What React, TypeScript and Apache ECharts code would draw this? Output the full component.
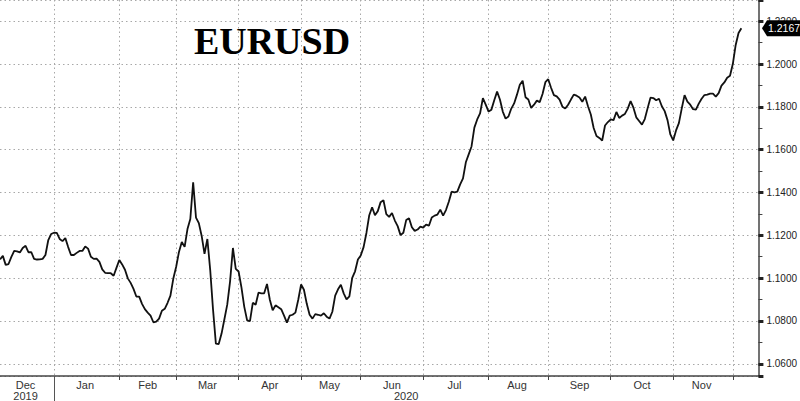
import React, { useEffect, useRef } from "react";
import * as echarts from "echarts";

// ---- data ----
const firstDate = "2019-12-05";
const lastAxisDate = "2020-12-14";
const monthNames = ["Jan", "Feb", "Mar", "Apr", "May", "Jun", "Jul", "Aug", "Sep", "Oct", "Nov", "Dec"];
const yMin = 1.0543;
const yMax = 1.2299;
const lastPriceLabel = "1.2167";
const titleText = "EURUSD";

// daily EURUSD closes (one per weekday from 2019-12-05)
const closes = [
  1.1088, 1.1104, 1.1062, 1.1066, 1.1099, 1.1127, 1.1125, 1.112, 1.1141, 1.1151,
  1.1121, 1.1122, 1.109, 1.1087, 1.1088, 1.109, 1.1108, 1.1178, 1.1206, 1.1212,
  1.1211, 1.1183, 1.1173, 1.1187, 1.1145, 1.1108, 1.1108, 1.1118, 1.1127, 1.1127,
  1.1148, 1.1138, 1.11, 1.109, 1.1091, 1.1076, 1.1041, 1.1025, 1.1023, 1.1023,
  1.1011, 1.1048, 1.1085, 1.1064, 1.1039, 1.0999, 1.0978, 1.095, 1.0914, 1.0914,
  1.088, 1.0855, 1.0839, 1.0825, 1.0794, 1.0797, 1.0811, 1.0848, 1.0857, 1.0885,
  1.0918, 1.0997, 1.1052, 1.1122, 1.1169, 1.1146, 1.1229, 1.1276, 1.1448, 1.1283,
  1.1257, 1.1197, 1.1113, 1.1183, 1.1039, 1.0853, 1.0694, 1.0692, 1.0741, 1.0808,
  1.0876, 1.0985, 1.1141, 1.1043, 1.1031, 1.0957, 1.0866, 1.0803, 1.0799, 1.0885,
  1.0876, 1.0932, 1.0929, 1.0929, 1.0973, 1.0899, 1.085, 1.0873, 1.0864, 1.0855,
  1.0825, 1.0792, 1.0825, 1.0829, 1.0839, 1.0899, 1.0971, 1.0946, 1.088, 1.0829,
  1.0811, 1.0832, 1.0829, 1.0825, 1.0836, 1.082, 1.0811, 1.0843, 1.0918, 1.0948,
  1.0969, 1.0929, 1.0901, 1.0915, 1.1001, 1.1032, 1.1087, 1.1106, 1.1145, 1.1211,
  1.1294, 1.1331, 1.1294, 1.1313, 1.1355, 1.1364, 1.1299, 1.1286, 1.1304, 1.1269,
  1.1243, 1.1201, 1.1212, 1.1271, 1.128, 1.1238, 1.1221, 1.1227, 1.1241, 1.1236,
  1.125, 1.1245, 1.1283, 1.1292, 1.1297, 1.132, 1.1292, 1.1318, 1.1357, 1.1404,
  1.1401, 1.1404, 1.1438, 1.1466, 1.1541, 1.1578, 1.1615, 1.1703, 1.1741, 1.1769,
  1.1841, 1.181, 1.1778, 1.1787, 1.1831, 1.1871, 1.1834, 1.1778, 1.1745, 1.1755,
  1.1792, 1.1816, 1.1857, 1.1903, 1.1922, 1.1845, 1.1834, 1.1795, 1.181, 1.1829,
  1.1822, 1.186, 1.1915, 1.1929, 1.1889, 1.1855, 1.1849, 1.1834, 1.1801, 1.1792,
  1.181, 1.1834, 1.1857, 1.1852, 1.1844, 1.1824, 1.1848, 1.1803, 1.1764, 1.1701,
  1.1664, 1.1655, 1.1643, 1.1713, 1.1729, 1.1741, 1.1738, 1.1776, 1.1748, 1.1759,
  1.1767, 1.1792, 1.1827, 1.1796, 1.1751, 1.1734, 1.1717, 1.1743, 1.1794, 1.1843,
  1.1841, 1.1831, 1.1838, 1.1803, 1.178, 1.1738, 1.1671, 1.1643, 1.169, 1.1724,
  1.1792, 1.1855, 1.1824, 1.181, 1.1789, 1.1787, 1.1815, 1.1838, 1.1855, 1.1857,
  1.1862, 1.1862, 1.1848, 1.1864, 1.1899, 1.1914, 1.1936, 1.1945, 1.2001, 1.2089,
  1.2145, 1.2167,
];

// ---- category axis (weekdays) ----
function weekdays(start: string, end: string): string[] {
  const out: string[] = [];
  const d = new Date(start + "T00:00:00Z");
  const e = new Date(end + "T00:00:00Z");
  while (d.getTime() <= e.getTime()) {
    const wd = d.getUTCDay();
    if (wd !== 0 && wd !== 6) out.push(d.toISOString().slice(0, 10));
    d.setUTCDate(d.getUTCDate() + 1);
  }
  return out;
}
const categories = weekdays(firstDate, lastAxisDate);

const monthStarts: number[] = [];
const yearStarts: number[] = [];
categories.forEach((c, i) => {
  if (i === 0) return;
  const prev = categories[i - 1];
  if (prev.slice(0, 7) !== c.slice(0, 7)) monthStarts.push(i);
  if (prev.slice(0, 4) !== c.slice(0, 4)) yearStarts.push(i);
});
const monthStartSet = new Set(monthStarts);
const yearStartSet = new Set(yearStarts);

const monthLabelMap = new Map<number, string>();
{
  const bounds = [0, ...monthStarts];
  for (let k = 0; k < bounds.length - 1; k++) {
    const mid = Math.floor((bounds[k] + bounds[k + 1]) / 2);
    const m = parseInt(categories[bounds[k]].slice(5, 7), 10) - 1;
    monthLabelMap.set(mid, monthNames[m]);
  }
}
const yearLabelMap = new Map<number, string>();
{
  const bounds = [0, ...yearStarts, categories.length];
  for (let k = 0; k < bounds.length - 1; k++) {
    const mid = Math.floor((bounds[k] + bounds[k + 1]) / 2);
    yearLabelMap.set(mid, categories[bounds[k]].slice(0, 4));
  }
}

const isMajor = (v: number) => Math.abs(v * 50 - Math.round(v * 50)) < 1e-6;

const gridLine = { color: "#a8a8a8", width: 1, type: [1.5, 3] as any };
const sans = "Liberation Sans";
const GRID_RIGHT = 39;

export default function App() {
  const ref = useRef<HTMLDivElement>(null);
  useEffect(() => {
    document.body.style.margin = "0";
    const chart = echarts.init(ref.current!, undefined, { renderer: "svg" });
    chart.setOption({
      animation: false,
      backgroundColor: "#ffffff",
      grid: { left: 0, right: GRID_RIGHT, top: -1, bottom: 24.5, containLabel: false },
      xAxis: [
        {
          type: "category",
          data: categories,
          boundaryGap: false,
          axisLine: { show: true, lineStyle: { color: "#444", width: 1.5 } },
          axisTick: {
            show: true,
            interval: (i: number) => monthStartSet.has(i),
            length: 4,
            lineStyle: { color: "#444" },
          },
          axisLabel: {
            interval: (i: number) => monthLabelMap.has(i),
            formatter: (_v: string, i: number) => monthLabelMap.get(i) ?? "",
            margin: 3,
            fontSize: 11,
            fontFamily: sans,
            color: "#333",
          },
          splitLine: {
            show: true,
            interval: (i: number) => monthStartSet.has(i),
            lineStyle: gridLine,
          },
        },
        {
          type: "category",
          data: categories,
          boundaryGap: false,
          position: "bottom",
          axisLine: { show: false },
          axisTick: {
            show: true,
            interval: (i: number) => yearStartSet.has(i),
            length: 26,
            lineStyle: { color: "#555" },
          },
          axisLabel: {
            interval: (i: number) => yearLabelMap.has(i),
            formatter: (_v: string, i: number) => yearLabelMap.get(i) ?? "",
            margin: 14,
            fontSize: 11,
            fontFamily: sans,
            color: "#333",
          },
          splitLine: { show: false },
        },
      ],
      yAxis: {
        type: "value",
        position: "right",
        min: yMin,
        max: yMax,
        splitNumber: 8,
        axisLine: { show: true, lineStyle: { color: "#444", width: 1.5 } },
        axisTick: { show: true, length: 5, lineStyle: { color: "#222", width: 3 } },
        minorTick: { show: true, splitNumber: 2, length: 4, lineStyle: { color: "#444" } },
        minorSplitLine: { show: false },
        axisLabel: {
          formatter: (v: number) => (isMajor(v) ? v.toFixed(4) : ""),
          showMinLabel: false,
          showMaxLabel: false,
          margin: 8,
          fontSize: 10,
          fontFamily: sans,
          color: "#222",
        },
        splitLine: { show: true, lineStyle: gridLine },
      },
      series: [
        {
          type: "line",
          data: closes,
          xAxisIndex: 0,
          symbol: "none",
          lineStyle: { color: "#111", width: 1.8 },
          z: 3,
        },
      ],
    });

    // title + last-price tag (tag positioned via the y axis scale)
    const w = chart.getWidth();
    const axisX = w - GRID_RIGHT;
    const lastVal = closes[closes.length - 1];
    const py = chart.convertToPixel({ yAxisIndex: 0 }, lastVal) as number;
    const h = 8;
    chart.setOption({
      graphic: [
        {
          type: "text",
          x: 272,
          y: 41,
          z: 10,
          style: {
            text: titleText,
            fill: "#000",
            font: 'bold 38px "Liberation Serif"',
            align: "center",
            verticalAlign: "middle",
          },
        },
        {
          type: "polygon",
          z: 20,
          shape: {
            points: [
              [axisX + 1, py],
              [axisX + 6, py - h],
              [w, py - h],
              [w, py + h],
              [axisX + 6, py + h],
            ],
          },
          style: { fill: "#000" },
        },
        {
          type: "text",
          z: 21,
          x: axisX + 7,
          y: py,
          style: {
            text: lastPriceLabel,
            fill: "#fff",
            font: `10.5px "${sans}"`,
            align: "left",
            verticalAlign: "middle",
          },
        },
      ],
    });
    return () => chart.dispose();
  }, []);
  return (
    <div
      ref={ref}
      style={{ position: "fixed", left: 0, top: 0, width: 800, height: 401 }}
    />
  );
}
